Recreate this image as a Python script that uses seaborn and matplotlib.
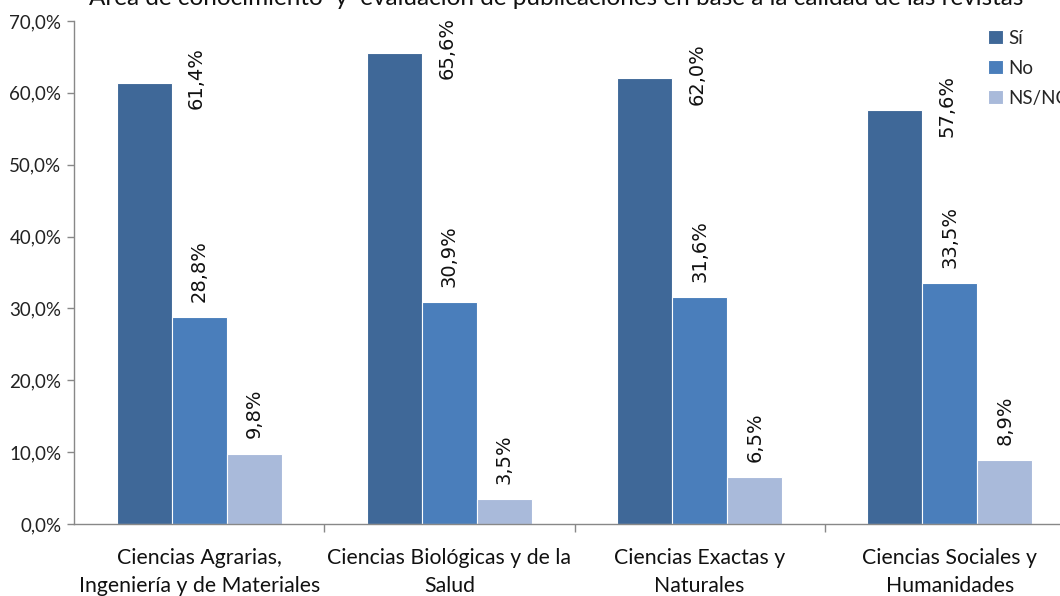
import pandas as pd
import numpy as np
import matplotlib
matplotlib.use("Agg")
import matplotlib.pyplot as plt
import seaborn as sns
from matplotlib.ticker import FuncFormatter, FixedLocator

# datos
areas = ["Ciencias Agrarias,\nIngeniería y de Materiales",
         "Ciencias Biológicas y de la\nSalud",
         "Ciencias Exactas y\nNaturales",
         "Ciencias Sociales y\nHumanidades"]
respuestas = ["Sí", "No", "NS/NC"]
si = [61.4, 65.6, 62.0, 57.6]
no = [28.8, 30.9, 31.6, 33.5]
nsnc = [9.8, 3.5, 6.5, 8.9]
colores = ["#3F6898", "#4A7EBB", "#A9BADA"]
titulo = "Área de conocimiento  y  evaluación de publicaciones en base a la calidad de las revistas"

df = pd.DataFrame({
    "area": areas * 3,
    "respuesta": ["Sí"] * 4 + ["No"] * 4 + ["NS/NC"] * 4,
    "valor": si + no + nsnc,
})

sns.set_theme(style="white")
plt.rcParams["font.family"] = ["Lato", "DejaVu Sans"]

fig = plt.figure(figsize=(10.6, 5.96), dpi=100)
ax = fig.add_axes([74 / 1060, 72 / 596, 986 / 1060, 503 / 596])

sns.barplot(data=df, x="area", y="valor", hue="respuesta", hue_order=respuestas,
            palette=colores, width=0.66, edgecolor="white", linewidth=0.8,
            saturation=1, ax=ax, legend=True)

# etiquetas de valor, giradas
for i, cont in enumerate(ax.containers):
    for bar in cont:
        v = bar.get_height()
        cx = bar.get_x() + bar.get_width() / 2
        txt = f"{v:.1f}%".replace(".", ",")
        if i == 0:
            ax.text(cx + 0.21, v + 0.6, txt, rotation=90, ha="center", va="center",
                    fontsize=14, family="DejaVu Sans", color="#111111")
        else:
            ax.text(cx, v + 2.1, txt, rotation=90, ha="center", va="bottom",
                    fontsize=14, family="DejaVu Sans", color="#111111")

ax.set_xlim(-0.5, 3.44)
ax.set_ylim(0, 70)
ax.set_yticks(np.arange(0, 71, 10))
ax.yaxis.set_major_formatter(FuncFormatter(lambda y, p: f"{y:.1f}%".replace(".", ",")))
ax.tick_params(axis="y", labelsize=13.5, length=5, width=1, color="#888888",
               direction="out", left=True, pad=4, labelcolor="#222222")
ax.tick_params(axis="x", labelsize=15.3, length=0, pad=17, labelcolor="#111111")
for lab in ax.get_xticklabels():
    lab.set_linespacing(1.5)
ax.xaxis.set_minor_locator(FixedLocator([0.5, 1.5, 2.5]))
ax.tick_params(axis="x", which="minor", length=6, width=1, color="#888888",
               direction="out", bottom=True)
ax.set_xlabel("")
ax.set_ylabel("")

for s in ["top", "right"]:
    ax.spines[s].set_visible(False)
for s in ["left", "bottom"]:
    ax.spines[s].set_color("#888888")
    ax.spines[s].set_linewidth(1)

ax.legend(loc="upper left", bbox_to_anchor=(980 / 1060, 1 - 22 / 596),
          bbox_transform=fig.transFigure, frameon=False, fontsize=13.5,
          handlelength=0.8, handleheight=0.8, handletextpad=0.3,
          labelspacing=0.7, borderaxespad=0)

fig.text(0.525, 1 - 5 / 596, titulo, ha="center", va="baseline", fontsize=17.5,
         color="#111111")

fig.savefig("out.png", dpi=100)
